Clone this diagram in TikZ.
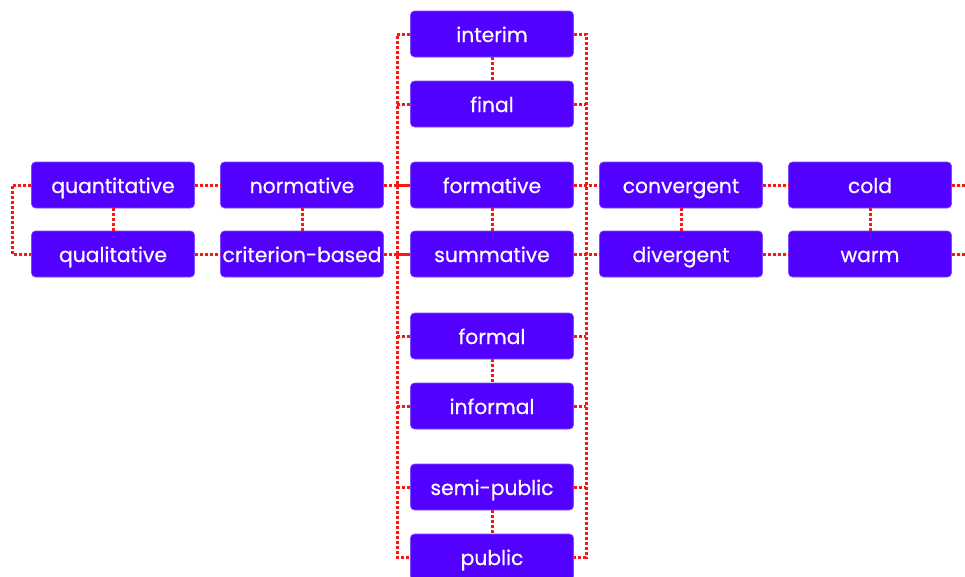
\documentclass[tikz,border=0pt]{standalone}
\usepackage{fontspec}
\setmainfont{Poppins}
\newfontfamily\labelfont[FakeBold=0.6]{Poppins}
\definecolor{boxfill}{HTML}{5200FF}
\definecolor{boxline}{HTML}{7A4DFF}
\definecolor{linkred}{HTML}{FF1414}
\begin{document}
\begin{tikzpicture}[x=1pt,y=-1pt,
  term/.style={draw=boxline, line width=0.6pt, fill=boxfill, rounded corners=4pt,
    minimum width=163pt, minimum height=46pt, inner sep=0pt,
    text height=18pt, text depth=2pt,
    text=white, font=\labelfont\fontsize{20.3}{22}\selectfont},
  link/.style={draw=linkred, line width=3pt, dash pattern=on 2.8pt off 2.2pt}]
\useasboundingbox (0,0) rectangle (965,576);
\clip (0,0) rectangle (965,576);

% spine and edge coordinates
\coordinate (ltop) at (397,34);
\coordinate (lbot) at (397,557);
\coordinate (rtop) at (586,34);
\coordinate (rbot) at (586,557);
\coordinate (qedge) at (12,185);
\coordinate (cedge) at (965,185);
\coordinate (wedge) at (965,254);

% boxes
\path
  (113,185) node[term] (quant) {quantitative}
  (113,254) node[term] (qual) {qualitative}
  (302,185) node[term] (norm) {normative}
  (302,254) node[term] (crit) {criterion-based}
  (492,34)  node[term] (interim) {interim}
  (492,104) node[term] (final) {final}
  (492,185) node[term] (formative) {formative}
  (492,254) node[term] (summative) {summative}
  (492,336) node[term] (formal) {formal}
  (492,406) node[term] (informal) {informal}
  (492,487) node[term] (semi) {semi-public}
  (492,557) node[term] (public) {public}
  (681,185) node[term] (conv) {convergent}
  (681,254) node[term] (div) {divergent}
  (870,185) node[term] (cold) {cold}
  (870,254) node[term] (warm) {warm};

% left spine of the central column
\draw[link] (interim.west) -- (ltop) -- (lbot) -- (public.west);
\foreach \n in {final,formative,summative,formal,informal,semi}
  \draw[link] (\n.west -| ltop) -- (\n.west);
% right spine of the central column
\draw[link] (interim.east) -- (rtop) -- (rbot) -- (public.east);
\foreach \n in {final,formative,summative,formal,informal,semi}
  \draw[link] (\n.east) -- (\n.east -| rtop);

% pairs within each column
\foreach \a/\b in {quant/qual,norm/crit,interim/final,formative/summative,
                   formal/informal,semi/public,conv/div,cold/warm}
  \draw[link] (\a.south) -- (\b.north);

% row links
\draw[link] (quant.west) -- (qedge) |- (qual.west);
\draw[link] (quant.east) -- (norm.west);
\draw[link] (qual.east) -- (crit.west);
\draw[link] (norm.east) -- (formative.west);
\draw[link] (crit.east) -- (summative.west);
\draw[link] (formative.east) -- (conv.west);
\draw[link] (summative.east) -- (div.west);
\draw[link] (conv.east) -- (cold.west);
\draw[link] (div.east) -- (warm.west);
\draw[link] (cold.east) -- (cedge);
\draw[link] (warm.east) -- (wedge);
\end{tikzpicture}
\end{document}
